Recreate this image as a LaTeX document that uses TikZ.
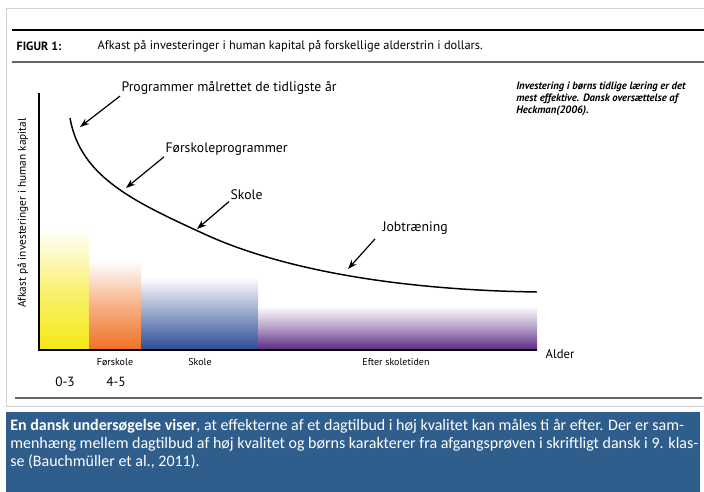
\documentclass[tikz,border=0pt]{standalone}
\usepackage{fontspec}
\setmainfont{PT Sans}
\newfontfamily\calibri{Carlito}
\usetikzlibrary{arrows.meta}

\definecolor{boksblaa}{RGB}{47,94,140}
\definecolor{gul}{RGB}{245,232,20}
\definecolor{orangebar}{RGB}{240,112,36}
\definecolor{blaabar}{RGB}{44,74,150}
\definecolor{lillabar}{RGB}{88,38,128}

\tikzset{
  pil/.style={-{Stealth[length=7pt,width=5pt]}, line width=0.9pt},
  kurvetekst/.style={anchor=west, inner sep=1pt, font=\fontsize{10.3}{12}\selectfont},
  aldertekst/.style={font=\fontsize{7.5}{9}\selectfont},
}

\begin{document}
\begin{tikzpicture}[x=0.75pt, y=-0.75pt]
\useasboundingbox (0,0) rectangle (704,492);
\fill[white] (0,0) rectangle (704,492);

% ramme og streger
\draw[black!18] (6,8) rectangle (712,406);
\draw[line width=2.2pt] (12,30) -- (704,30);
\draw[black!60, line width=1pt] (12,62) -- (704,62);
\draw[black!60, line width=1pt] (15,398) -- (702,398);

\node[anchor=west, font=\bfseries\fontsize{9}{10}\selectfont] (figur) at (12,46) {FIGUR 1:};
\node[anchor=west, font=\fontsize{9.3}{10}\selectfont] (titel) at (93,46) {Afkast på investeringer i human kapital på forskellige alderstrin i dollars.};

% soejler
\shade[top color=white, bottom color=gul, middle color=gul!60] (39,229) rectangle (89,350);
\shade[top color=white, bottom color=orangebar, middle color=orangebar!55] (89,261) rectangle (141,350);
\shade[top color=white, bottom color=blaabar, middle color=blaabar!50] (141,277) rectangle (258,350);
\shade[top color=white, bottom color=lillabar, middle color=lillabar!45] (258,306) rectangle (537,350);

% akser
\draw[line width=0.9pt] (39,93) -- (39,350) -- (537,350);

% kurve
\draw[line width=1.1pt] (70,118) .. controls (80,175) and (130,200) .. (200,232)
  .. controls (280,270) and (400,290) .. (537,292);

\coordinate (p1) at (80,127);
\coordinate (p2) at (126,188);
\coordinate (p3) at (197,229);
\coordinate (p4) at (348,269);

\node[kurvetekst] (prog) at (120,88) {Programmer målrettet de tidligste år};
\node[kurvetekst] (forsk) at (164,149) {Førskoleprogrammer};
\node[kurvetekst] (skole) at (229,195) {Skole};
\node[kurvetekst] (job) at (381,228) {Jobtræning};

\draw[pil] (prog.south west) -- (p1);
\draw[pil] (forsk.south west) -- (p2);
\draw[pil] (skole.south west) -- (p3);
\draw[pil] (job.south west) ++(-6,3) -- (p4);

\node[rotate=90, font=\fontsize{8.5}{10}\selectfont] (yakse) at (23,213) {Afkast på investeringer i human kapital};
\node[anchor=west, font=\fontsize{9.5}{10}\selectfont] (alder) at (541,354) {Alder};

\node[aldertekst] (t1) at (115,362) {Førskole};
\node[aldertekst] (t2) at (200,362) {Skole};
\node[aldertekst] (t3) at (396,362) {Efter skoletiden};
\node[font=\fontsize{10}{11}\selectfont] (a1) at (65,382) {0-3};
\node[font=\fontsize{10}{11}\selectfont] (a2) at (116,382) {4-5};

\node[anchor=north west, align=left, inner sep=0pt, font=\bfseries\itshape\fontsize{8}{9}\selectfont] (note) at (516,82) {Investering i børns tidlige læring er det\\mest effektive. Dansk oversættelse af\\Heckman(2006).};

% blaa boks
\fill[boksblaa] (6,412) rectangle (700,492);
\node[anchor=north west, align=left, inner sep=0pt, text=white, font=\calibri\fontsize{12}{13.6}\selectfont] (tekst) at (10,419) {\textbf{En dansk undersøgelse viser}, at effekterne af et dagtilbud i høj kvalitet kan måles ti år efter. Der er sam-\\menhæng mellem dagtilbud af høj kvalitet og børns karakterer fra afgangsprøven i skriftligt dansk i 9. klas-\\se (Bauchmüller et al., 2011).};

\end{tikzpicture}
\end{document}
